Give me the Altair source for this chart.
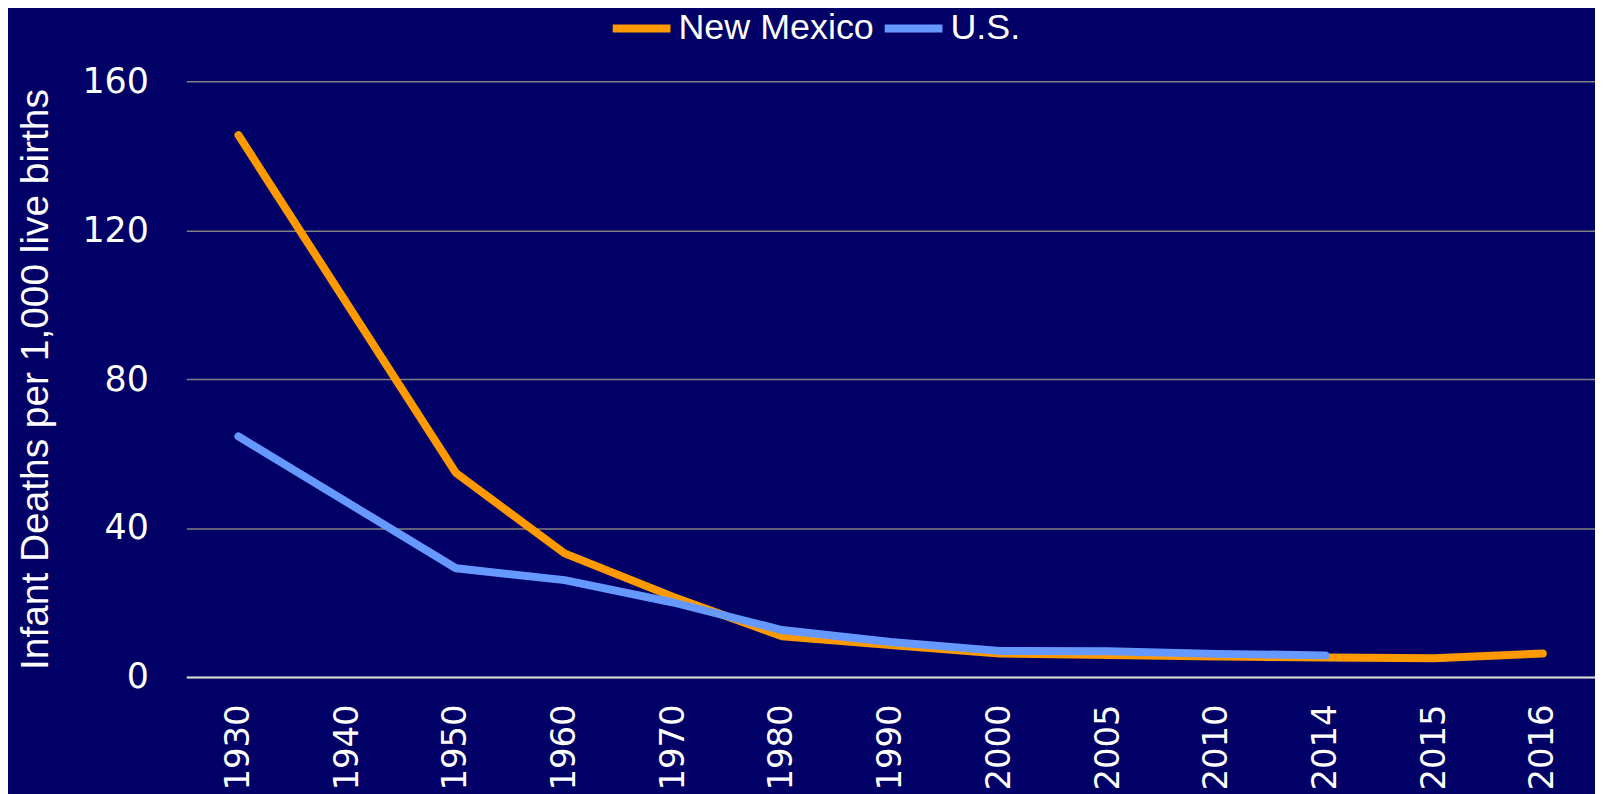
import altair as alt
import pandas as pd

years = ["1930", "1940", "1950", "1960", "1970", "1980", "1990", "2000", "2005", "2010", "2014", "2015", "2016"]
nm_years = ["1930", "1950", "1960", "1970", "1980", "1990", "2000", "2005", "2010", "2014", "2015", "2016"]
nm_values = [145.5, 54.8, 33.2, 21.5, 10.9, 8.6, 6.3, 5.9, 5.5, 5.2, 5.0, 6.3]
us_years = ["1930", "1950", "1960", "1970", "1980", "1990", "2000", "2005", "2010", "2014"]
us_values = [64.6, 29.2, 26.0, 20.0, 12.6, 9.4, 7.0, 6.9, 6.2, 5.8]
series = ["New Mexico", "U.S."]
colors = ["#FF9900", "#6699FF"]

rows = [{"year": y, "value": v, "series": "New Mexico"} for y, v in zip(nm_years, nm_values)]
rows += [{"year": y, "value": v, "series": "U.S."} for y, v in zip(us_years, us_values)]
df = pd.DataFrame(rows)

chart = alt.Chart(df).mark_line(strokeWidth=8, strokeCap="round", strokeJoin="round").encode(
    x=alt.X("year:N", sort=years, scale=alt.Scale(domain=years, padding=0.48),
            axis=alt.Axis(title=None, labelAngle=-90, labelFont="DejaVu Sans", labelFontSize=34,
                          labelColor="white", labelPadding=27, ticks=False, domainColor="#D9D9D9",
                          domainWidth=2, grid=False)),
    y=alt.Y("value:Q", scale=alt.Scale(domain=[0, 160]),
            axis=alt.Axis(values=[0, 40, 80, 120, 160], title="Infant Deaths per 1,000 live births",
                          labelFont="DejaVu Sans", labelFontSize=35, labelColor="white", labelPadding=38,
                          ticks=False, domain=False, gridColor="#808080", gridWidth=1.5,
                          titleFont="Liberation Sans", titleFontSize=39,
                          titleFontWeight="normal", titleColor="white", titleAngle=-90,
                          titleX=-151, titleY=299, titleAlign="center", titleBaseline="middle")),
    color=alt.Color("series:N", scale=alt.Scale(domain=series, range=colors),
                    legend=alt.Legend(title=None, orient="none", legendX=424, legendY=-86,
                                      direction="horizontal", symbolType="stroke", symbolSize=3364,
                                      symbolStrokeWidth=8, labelFont="Liberation Sans", labelFontSize=36,
                                      labelColor="white", labelOffset=4, labelLimit=0,
                                      columnPadding=-6, padding=0)),
).properties(
    width=1414, height=598, background="#000066",
    autosize=alt.AutoSizeParams(type="none"),
    padding={"left": 179, "top": 72, "right": 0, "bottom": 116},
).configure_view(stroke=None)

chart.save("out.html", embed_options={"renderer": "svg", "actions": False})
